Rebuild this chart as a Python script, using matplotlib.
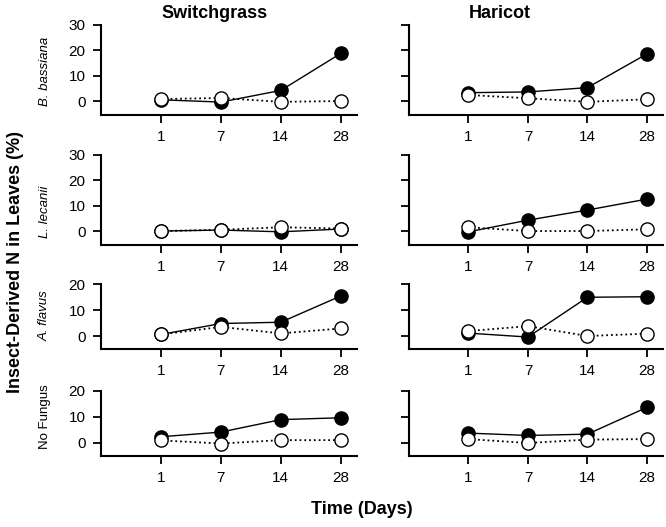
import matplotlib.pyplot as plt

plt.rcParams['font.family'] = ['Liberation Sans', 'DejaVu Sans']

# Données
days = ['1', '7', '14', '28']
plants = ['Switchgrass', 'Haricot']
fungi = ['B. bassiana', 'L. lecanii', 'A. flavus', 'No Fungus']

# Symboles pleins (trait continu)
bb_switch_filled = [0.5, -0.4, 4.2, 18.8]
bb_haricot_filled = [3.3, 3.6, 5.3, 18.6]
ll_switch_filled = [0.0, 0.4, -0.3, 0.8]
ll_haricot_filled = [-0.3, 4.3, 8.3, 12.6]
af_switch_filled = [0.6, 4.8, 5.3, 15.4]
af_haricot_filled = [1.1, -0.4, 14.9, 15.1]
nf_switch_filled = [2.4, 4.2, 9.0, 9.7]
nf_haricot_filled = [3.8, 2.9, 3.4, 13.7]

# Symboles vides (pointillés)
bb_switch_open = [0.8, 1.2, -0.3, 0.0]
bb_haricot_open = [2.4, 1.1, -0.3, 0.7]
ll_switch_open = [0.0, 0.5, 1.5, 1.0]
ll_haricot_open = [1.5, 0.0, 0.0, 0.7]
af_switch_open = [0.6, 3.5, 1.0, 2.9]
af_haricot_open = [1.9, 3.8, 0.0, 0.9]
nf_switch_open = [1.0, -0.2, 1.1, 1.1]
nf_haricot_open = [1.5, 0.0, 1.3, 1.5]

filled = [[bb_switch_filled, bb_haricot_filled],
          [ll_switch_filled, ll_haricot_filled],
          [af_switch_filled, af_haricot_filled],
          [nf_switch_filled, nf_haricot_filled]]
empty = [[bb_switch_open, bb_haricot_open],
         [ll_switch_open, ll_haricot_open],
         [af_switch_open, af_haricot_open],
         [nf_switch_open, nf_haricot_open]]

W, H = 666, 527
fig = plt.figure(figsize=(W / 100, H / 100), dpi=100)

# Positions des axes en pixels (gauche, droite) et (haut, bas)
cols = [(101, 357), (409, 663)]
rows = [(25, 115), (155, 245), (284, 349), (391, 456)]
ylims = [(-5.5, 30), (-5.5, 30), (-5, 20), (-5, 20)]
yticks = [[0, 10, 20, 30], [0, 10, 20, 30], [0, 10, 20], [0, 10, 20]]

x = list(range(len(days)))

for r, (top, bot) in enumerate(rows):
    for c, (left, right) in enumerate(cols):
        ax = fig.add_axes([left / W, 1 - bot / H, (right - left) / W, (bot - top) / H])
        ax.plot(x, filled[r][c], '-', color='black', lw=1.0,
                marker='o', ms=9.5, mfc='black', mec='black', zorder=3)
        ax.plot(x, empty[r][c], ':', color='black', lw=1.3,
                marker='o', ms=9.5, mfc='white', mec='black', mew=1.0, zorder=4)
        ax.set_xlim(-1, 3.27)
        ax.set_ylim(*ylims[r])
        ax.set_xticks(x)
        ax.set_xticklabels(days)
        ax.set_yticks(yticks[r])
        if c == 1:
            ax.set_yticklabels([])
        for side in ['top', 'right']:
            ax.spines[side].set_visible(False)
        for side in ['left', 'bottom']:
            ax.spines[side].set_linewidth(1.5)
        ax.tick_params(direction='out', length=6, width=1.3, labelsize=11, pad=5)
        ax.patch.set_alpha(0)

# Titres de colonnes
fig.text(215 / W, 1 - 13 / H, plants[0], ha='center', va='center',
         fontsize=13, fontweight='bold')
fig.text(500 / W, 1 - 13 / H, plants[1], ha='center', va='center',
         fontsize=13, fontweight='bold')

# Étiquettes de lignes
label_y = [71, 212, 316, 417]
for name, yy in zip(fungi, label_y):
    style = 'normal' if name == 'No Fungus' else 'italic'
    fig.text(45 / W, 1 - yy / H, name, rotation=90, ha='center', va='center',
             fontsize=9.5, fontstyle=style)

fig.text(16 / W, 1 - 262 / H, 'Insect-Derived N in Leaves (%)', rotation=90,
         ha='center', va='center', fontsize=13, fontweight='bold')
fig.text(362 / W, 1 - 510 / H, 'Time (Days)', ha='center', va='center',
         fontsize=13, fontweight='bold')

plt.savefig('out.png', dpi=100)
plt.close()
